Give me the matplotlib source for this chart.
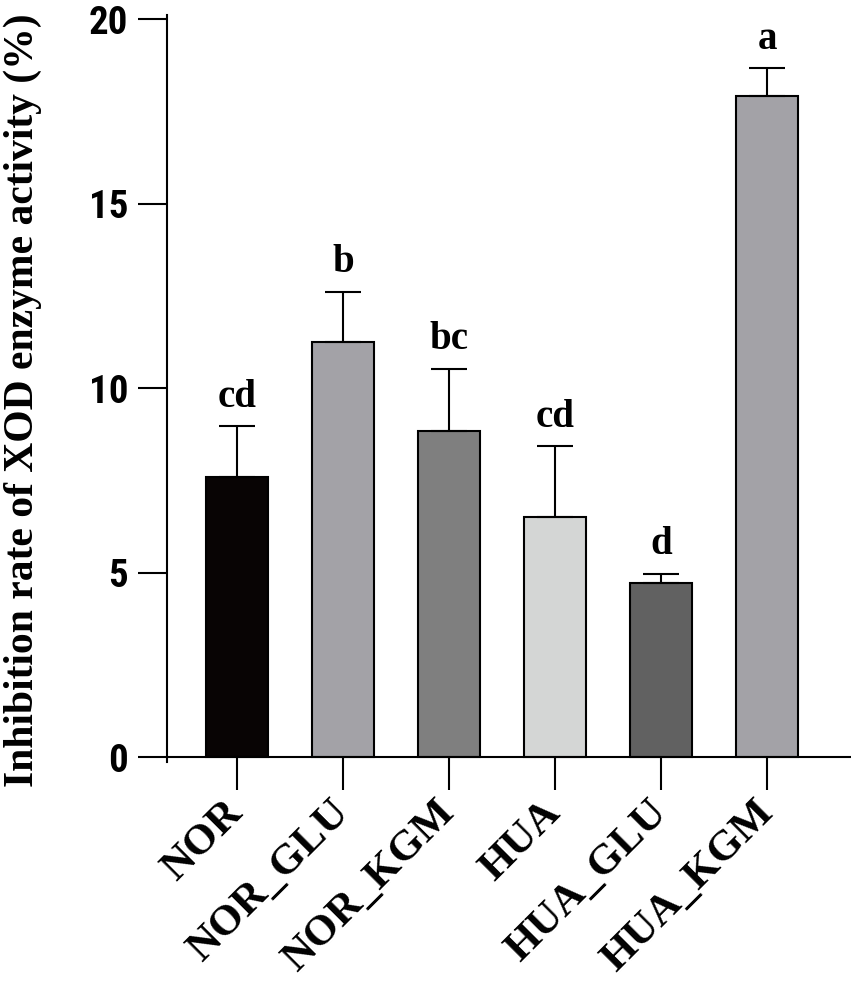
import matplotlib
matplotlib.use("Agg")
import matplotlib.pyplot as plt
from matplotlib import font_manager

# data
groups = ["NOR", "NOR_GLU", "NOR_KGM", "HUA", "HUA_GLU", "HUA_KGM"]
means = [7.60, 11.25, 8.83, 6.50, 4.71, 17.92]
sd = [1.37, 1.36, 1.70, 1.92, 0.26, 0.76]
letters = ["cd", "b", "bc", "cd", "d", "a"]
colors = ["#080404", "#a3a2a7", "#7f7f7f", "#d4d6d5", "#616161", "#a3a2a7"]

plt.rcParams["font.family"] = "Liberation Serif"
plt.rcParams["font.weight"] = "bold"

# narrow sans for the y numbers, if one is there
installed = {f.name for f in font_manager.fontManager.ttflist}
narrow = "Liberation Sans"
for name in ["Liberation Sans Narrow", "DejaVu Sans Condensed", "Roboto Condensed"]:
    if name in installed:
        narrow = name
        break

fig = plt.figure(figsize=(8.51, 9.91), dpi=100)
ax = fig.add_axes([0.1962, 0.2309, 0.8038, 0.7541])
ax.spines["top"].set_visible(False)
ax.spines["right"].set_visible(False)
ax.spines["bottom"].set_position(("data", 0))
ax.spines["left"].set_linewidth(1.5)
ax.spines["bottom"].set_linewidth(1.5)

x = list(range(len(groups)))
ax.bar(x, means, width=0.585, color=colors, edgecolor="black", linewidth=1.5, zorder=2)
ax.errorbar(x, means, yerr=[[0] * len(sd), sd], fmt="none", ecolor="black",
            elinewidth=1.5, capsize=13, capthick=1.5, zorder=3)

# significance letters
for i, (m, s, lab) in enumerate(zip(means, sd, letters)):
    ax.annotate(lab, (i, m + s), xytext=(0, 14), textcoords="offset points",
                ha="center", va="baseline", fontsize=28, fontweight="bold")

ax.set_xlim(-0.66, 5.79)
ax.set_ylim(-0.14, 20.12)
ax.tick_params(axis="y", direction="out", length=21, width=1.5, pad=7)
ax.tick_params(axis="x", direction="out", length=24, width=1.5, pad=12)
ax.set_yticks([0, 5, 10, 15, 20])
ax.set_yticklabels(["0", "5", "10", "15", "20"], family=narrow, fontsize=28,
                   fontweight="bold")
ax.set_xticks(x)
ax.set_xticklabels(groups, rotation=45, ha="right", va="center",
                   rotation_mode="anchor", fontsize=31, fontweight="bold")

fig.text(23 / 851, 1 - 400 / 991, "Inhibition rate of XOD enzyme activity (%)",
         rotation=90, ha="center", va="center", fontsize=30, fontweight="bold")

fig.savefig("out.png", dpi=100)
